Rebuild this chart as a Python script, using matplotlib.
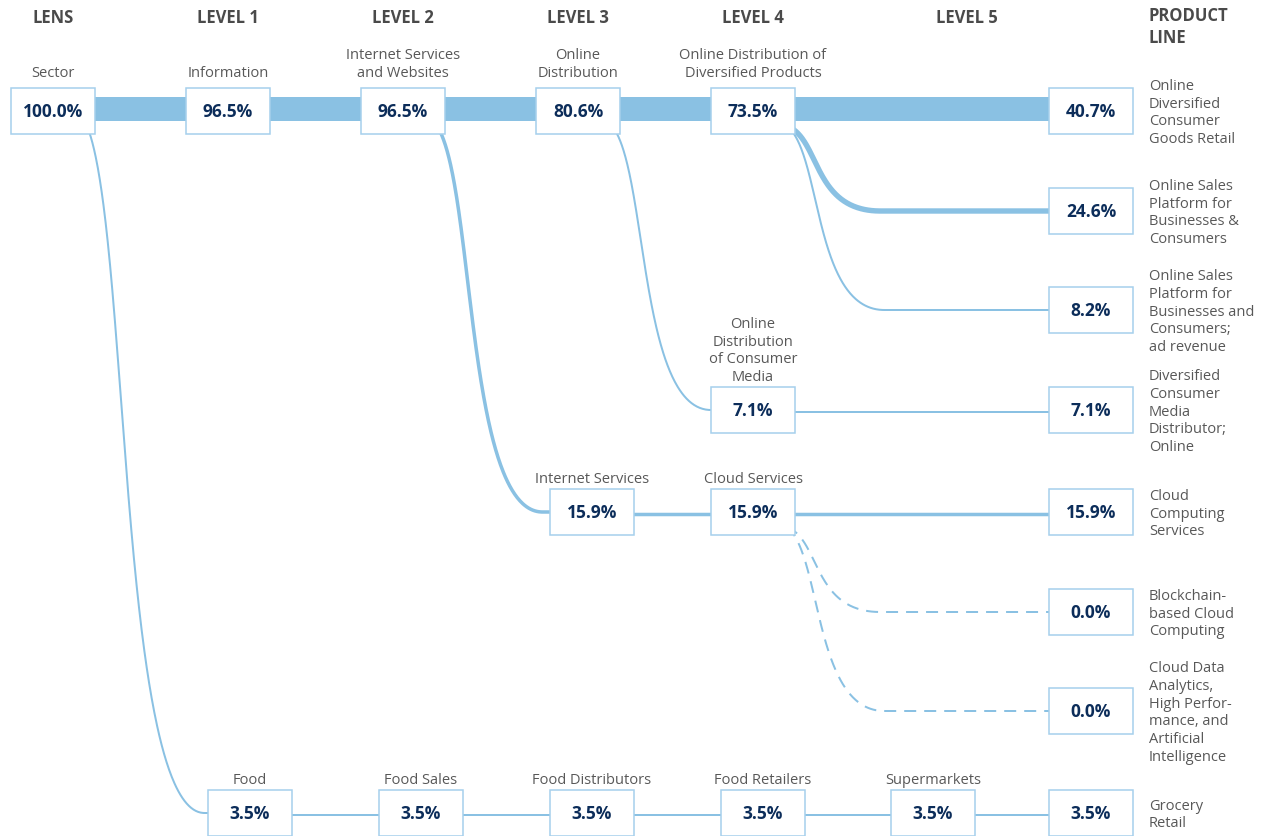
import numpy as np
import matplotlib
matplotlib.use('Agg')
import matplotlib.pyplot as plt
from matplotlib.patches import Rectangle

plt.rcParams['font.family'] = ['Open Sans', 'DejaVu Sans']

# column headers
headers = ['LENS', 'LEVEL 1', 'LEVEL 2', 'LEVEL 3', 'LEVEL 4', 'LEVEL 5', 'PRODUCT\nLINE']

# classification nodes (label, share of revenue in %)
node_labels = ['Sector', 'Information', 'Internet Services\nand Websites',
               'Online\nDistribution', 'Online Distribution of\nDiversified Products',
               'Online\nDistribution\nof Consumer\nMedia', 'Internet Services',
               'Cloud Services', 'Food', 'Food Sales', 'Food Distributors',
               'Food Retailers', 'Supermarkets']
node_values = [100.0, 96.5, 96.5, 80.6, 73.5, 7.1, 15.9, 15.9, 3.5, 3.5, 3.5, 3.5, 3.5]

# product lines
product_labels = ['Online\nDiversified\nConsumer\nGoods Retail',
                  'Online Sales\nPlatform for\nBusinesses &\nConsumers',
                  'Online Sales\nPlatform for\nBusinesses and\nConsumers;\nad revenue',
                  'Diversified\nConsumer\nMedia\nDistributor;\nOnline',
                  'Cloud\nComputing\nServices',
                  'Blockchain-\nbased Cloud\nComputing',
                  'Cloud Data\nAnalytics,\nHigh Perfor-\nmance, and\nArtificial\nIntelligence',
                  'Grocery\nRetail']
product_values = [40.7, 24.6, 8.2, 7.1, 15.9, 0.0, 0.0, 3.5]

# links: source -> target (products follow the 13 nodes)
links = [(0, 1), (1, 2), (2, 3), (3, 4), (4, 13), (4, 14), (4, 15), (3, 5), (5, 16),
         (2, 6), (6, 7), (7, 17), (7, 18), (7, 19),
         (0, 8), (8, 9), (9, 10), (10, 11), (11, 12), (12, 20)]

# ---- layout (pixels) ----
header_x = [53, 228, 403, 578, 753, 967, 1148]
rows = [112, 212, 311, 411, 513, 613, 712, 814]
node_x = [53, 228, 403, 578, 753, 753, 592, 753, 250, 421, 592, 763, 933]
node_row = [0, 0, 0, 0, 0, 3, 4, 4, 7, 7, 7, 7, 7]
prod_x = 1091
BW, BH = 84, 46

all_x = node_x + [prod_x] * len(product_values)
all_y = [rows[r] for r in node_row] + rows
all_v = node_values + product_values

LINK = '#8ac1e3'
EDGE = '#a6d0ec'
NAVY = '#0c2d5a'
GREY = '#585858'


def px(v):
    return v * 72 / 100


def link_width(v):
    if v >= 40:
        return 24
    return max(2, v * 0.22)


fig = plt.figure(figsize=(12.75, 8.37), dpi=100)
ax = fig.add_axes([0, 0, 1, 1])
ax.set_xlim(0, 1275)
ax.set_ylim(837, 0)
ax.axis('off')

for s, t in links:
    v = all_v[t]
    w = px(link_width(v))
    ls = '--' if v == 0 else '-'
    sy, ty = all_y[s], all_y[t]
    if sy == ty:
        yy = ty - 2 if link_width(v) > 20 else ty + 2
        line, = ax.plot([all_x[s], all_x[t]], [yy, yy], color=LINK, lw=w,
                        solid_capstyle='butt', zorder=1)
    else:
        x0 = all_x[s] + BW / 2 - 8
        y0 = sy + BH / 2 - 8
        x_end = all_x[t] - BW / 2
        dy = ty - y0
        span = min(x_end - x0, 90 + 0.04 * dy)
        p0 = np.array([x0, y0])
        p1 = np.array([x0 + 0.36 * span, y0 + 0.15 * dy])
        p2 = np.array([x0 + 0.27 * span, ty])
        p3 = np.array([x0 + span, ty])
        tt = np.linspace(0, 1, 200)[:, None]
        pts = ((1 - tt) ** 3 * p0 + 3 * (1 - tt) ** 2 * tt * p1
               + 3 * (1 - tt) * tt ** 2 * p2 + tt ** 3 * p3)
        xs = np.append(pts[:, 0], all_x[t])
        ys = np.append(pts[:, 1], ty)
        line, = ax.plot(xs, ys, color=LINK, lw=w, ls=ls, solid_capstyle='butt',
                        solid_joinstyle='round', zorder=1)
        if v == 0:
            line.set_dashes((6, 4))
            line.set_dash_capstyle('butt')

# boxes with values
for x, y, v in zip(all_x, all_y, all_v):
    ax.add_patch(Rectangle((x - BW / 2, y - BH / 2), BW, BH, facecolor='white',
                           edgecolor=EDGE, lw=1.1, zorder=3))
    ax.text(x, y, f'{v:.1f}%', ha='center', va='center', fontsize=12.5,
            fontweight='bold', color=NAVY, zorder=4)

# node labels above boxes
for i, lab in enumerate(node_labels):
    gap = 12 if node_row[i] == 0 else 7
    ax.text(node_x[i], all_y[i] - BH / 2 - gap, lab, ha='center', va='baseline',
            fontsize=10.5, color=GREY, linespacing=1.25)

# product labels
for lab, y in zip(product_labels, rows):
    ax.text(1149, y + 1, lab, ha='left', va='center', fontsize=10.5, color=GREY,
            linespacing=1.25)

# headers
for h, x in zip(headers, header_x):
    if '\n' in h:
        ax.text(x, 7, h, ha='left', va='top', fontsize=12, fontweight='bold',
                color='#4a4a4a', linespacing=1.3)
    else:
        ax.text(x, 18, h, ha='center', va='center', fontsize=12, fontweight='bold',
                color='#4a4a4a')

fig.savefig('out.png', dpi=100)
